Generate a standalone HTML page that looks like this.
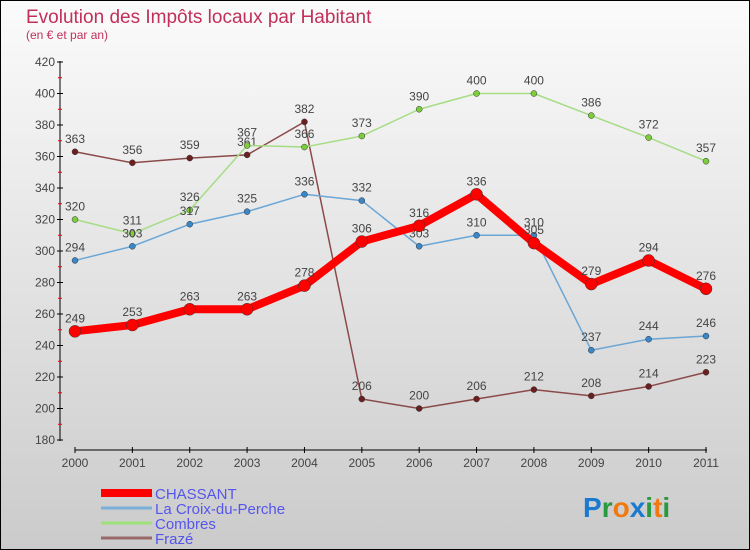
<!DOCTYPE html>
<html><head><meta charset="utf-8"><style>
body{margin:0}
#c{position:relative;width:748px;height:548px;border:1px solid #000;background:linear-gradient(#fbfbfb,#cbcbcb);font-family:"Liberation Sans",sans-serif;overflow:hidden}
</style></head><body>
<div id="c">
<svg id="s" width="748" height="548"></svg>
</div>
<script>
const years=["2000","2001","2002","2003","2004","2005","2006","2007","2008","2009","2010","2011"];
const yTicks=[180,200,220,240,260,280,300,320,340,360,380,400,420];
const chassant=[249,253,263,263,278,306,316,336,305,279,294,276];
const croix=[294,303,317,325,336,332,303,310,310,237,244,246];
const combres=[320,311,326,367,366,373,390,400,400,386,372,357];
const fraze=[363,356,359,361,382,206,200,206,212,208,214,223];
const ns="http://www.w3.org/2000/svg",s=document.getElementById('s');
function mk(t,a,p){const e=document.createElementNS(ns,t);for(const k in a)e.setAttribute(k,a[k]);(p||s).appendChild(e);return e;}
const X=i=>74+i*(631/11), Y=v=>439-(v-180)*(378/240);
function txt(x,y,str,a,name){const e=mk('text',Object.assign({x:x,y:y,'font-size':12,fill:'#444'},a));e.textContent=str;return e;}
txt(25,22,"Evolution des Impôts locaux par Habitant",{'font-size':19,fill:'#c0305a'},'chart-title');
txt(25,38,"(en € et par an)",{'font-size':12,fill:'#c0305a'},'chart-subtitle');
// axes
let ax=mk('line',{x1:59,y1:60,x2:59,y2:440,stroke:'#000'});
ax=mk('line',{x1:74,y1:449,x2:706,y2:449,stroke:'#000'});
yTicks.forEach((v,i)=>{const y=Y(v);mk('line',{x1:56,y1:y,x2:62,y2:y,stroke:'#000'});
 if(i<yTicks.length-1){mk('line',{x1:57,y1:Y(v+10),x2:61,y2:Y(v+10),stroke:'#e00'});}
 txt(54,y+4,String(v),{'text-anchor':'end'},'y-tick-label');});
years.forEach((yr,i)=>{mk('line',{x1:X(i),y1:446,x2:X(i),y2:452,stroke:'#000'});txt(X(i),466,yr,{'text-anchor':'middle'},'x-tick-label');});
function series(d,color,w,r,name,dot){
 const pts=d.map((v,i)=>X(i)+','+Y(v)).join(' ');
 const l=mk('polyline',{points:pts,fill:'none',stroke:color,'stroke-width':w,'stroke-linejoin':'round'});
 
 d.forEach((v,i)=>{const c=mk('circle',{cx:X(i),cy:Y(v),r:r,fill:dot,stroke:'#333','stroke-width':0.5});
  
  txt(X(i),Y(v)-9,String(v),{'text-anchor':'middle'},name+'-value');});
}
series(fraze,'#8b4a4a',1.5,3,'fraze','#6b1f1f');
series(combres,'#a6dc84',1.5,3,'combres','#7ccc3c');
series(croix,'#6aa6d6',1.5,3,'croix','#3a86c6');
series(chassant,'#f00',8,6,'chassant','#f00');
// legend
const leg=[["CHASSANT","#f00",8],["La Croix-du-Perche","#7ab0d8",3],["Combres","#9ee07a",3],["Frazé","#9a6a6a",3]];
leg.forEach((l,i)=>{const y=492+i*15;const ln=mk('line',{x1:100,y1:y,x2:151,y2:y,stroke:l[1],'stroke-width':l[2]});
 
 txt(154,y+6,l[0],{'font-size':15,fill:'#5555ee'},'legend-entry');});
const p=mk('text',{x:582,y:516,'font-size':28,'font-weight':'bold'});
[["P","#1a7ad0"],["r","#2a9a40"],["o","#f07a10"],["x","#1a7ad0"],["i","#2a9a40"],["t","#f07a10"],["i","#2a9a40"]].forEach(c=>{const t=mk('tspan',{fill:c[1]},p);t.textContent=c[0];});
</script>
</body></html>
